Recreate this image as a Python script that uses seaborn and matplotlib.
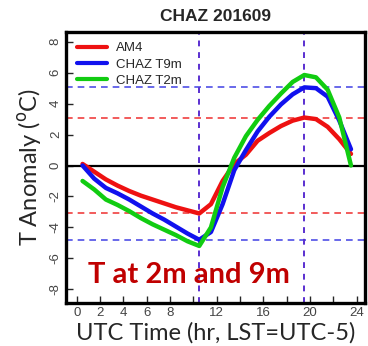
import numpy as np
import pandas as pd
import seaborn as sns
import matplotlib.pyplot as plt

# hourly means, UTC hour (half-hour centres)
hours = [0.5, 1.5, 2.5, 3.5, 4.5, 5.5, 6.5, 7.5, 8.5, 9.5, 10.5, 11.5,
         12.5, 13.5, 14.5, 15.5, 16.5, 17.5, 18.5, 19.5, 20.5, 21.5, 22.5, 23.5]
am4 = [0.1, -0.4, -0.9, -1.3, -1.65, -1.95, -2.2, -2.45, -2.7, -2.9, -3.1, -2.5,
       -1.0, 0.1, 0.7, 1.6, 2.1, 2.55, 2.9, 3.1, 3.0, 2.5, 1.7, 0.75]
chaz_t9m = [0.0, -0.85, -1.45, -1.8, -2.2, -2.65, -3.1, -3.5, -3.95, -4.4, -4.8, -4.3,
            -2.5, -0.3, 1.0, 2.2, 3.15, 3.95, 4.6, 5.05, 5.0, 4.45, 2.9, 1.05]
chaz_t2m = [-1.0, -1.55, -2.2, -2.55, -2.95, -3.4, -3.8, -4.15, -4.5, -4.9, -5.2, -4.0,
            -1.4, 0.5, 1.9, 2.95, 3.85, 4.65, 5.4, 5.85, 5.7, 4.9, 3.1, 0.0]
series = ['AM4', 'CHAZ T9m', 'CHAZ T2m']
colors = ['#ee1111', '#1111ee', '#11cc11']

# reference lines
red_levels = [3.1, -3.1]
blue_levels = [5.05, -4.8]
vlines = [10.5, 19.5]

xticks = [0, 2, 4, 6, 8, 10, 12, 14, 16, 18, 20, 22, 24]
xticklabels = ['0', '2', '4', '6', '8', '', '12', '', '16', '', '20', '', '24']
yticks = [-8, -6, -4, -2, 0, 2, 4, 6, 8]

df = pd.DataFrame({'hour': hours * 3,
                   'anom': am4 + chaz_t9m + chaz_t2m,
                   'run': [s for s in series for _ in hours]})

sns.set_style('white')
plt.rcParams['font.family'] = ['Liberation Sans', 'DejaVu Sans']

fig = plt.figure(figsize=(3.68, 3.46), dpi=100)
ax = fig.add_axes([0.1793, 0.1251, 0.8125, 0.7833])

for y in red_levels:
    ax.axhline(y, color='#f04040', lw=1.2, dashes=(4, 3), zorder=1)
for y in blue_levels:
    ax.axhline(y, color='#4f4fe6', lw=1.2, dashes=(4, 3), zorder=1)
for x in vlines:
    ax.axvline(x, color='#5a2fd0', lw=1.4, dashes=(3, 3), zorder=1)
ax.axhline(0, color='black', lw=1.6, zorder=1)

sns.lineplot(data=df, x='hour', y='anom', hue='run', palette=colors,
             hue_order=series, lw=3.2, ax=ax, zorder=3)

ax.set_xlim(-0.92, 24.7)
ax.set_ylim(-8.87, 8.65)
ax.set_xticks(xticks)
ax.set_xticklabels(xticklabels)
ax.set_yticks(yticks)
ax.set_yticklabels([str(v) for v in yticks], rotation=90, va='center')
ax.tick_params(direction='in', length=5, width=1, labelsize=9.5,
               labelcolor='#444444', pad=3, bottom=True, left=True)
for s in ax.spines.values():
    s.set_linewidth(2.4)
    s.set_color('black')

ax.set_xlabel('UTC Time (hr, LST=UTC-5)', fontsize=17, family=['Lato', 'DejaVu Sans'],
              labelpad=2)
ax.set_ylabel('T Anomaly ($^{\\mathrm{o}}$C)', fontsize=17, family=['Lato', 'DejaVu Sans'],
              labelpad=4)
ax.set_title('CHAZ 201609', fontsize=12.5, fontweight='bold', pad=8)

ax.text(0.074, 0.072, 'T at 2m and 9m', transform=ax.transAxes, color='#c00000',
        fontsize=21, fontweight='bold', family=['Lato', 'DejaVu Sans'], va='baseline')

leg = ax.legend(loc='upper left', frameon=False, fontsize=9.5, handlelength=2.3,
                handletextpad=0.7, labelspacing=0.3, borderaxespad=0.4)
for h in leg.get_lines():
    h.set_linewidth(3)

fig.savefig('out.png', dpi=100)
